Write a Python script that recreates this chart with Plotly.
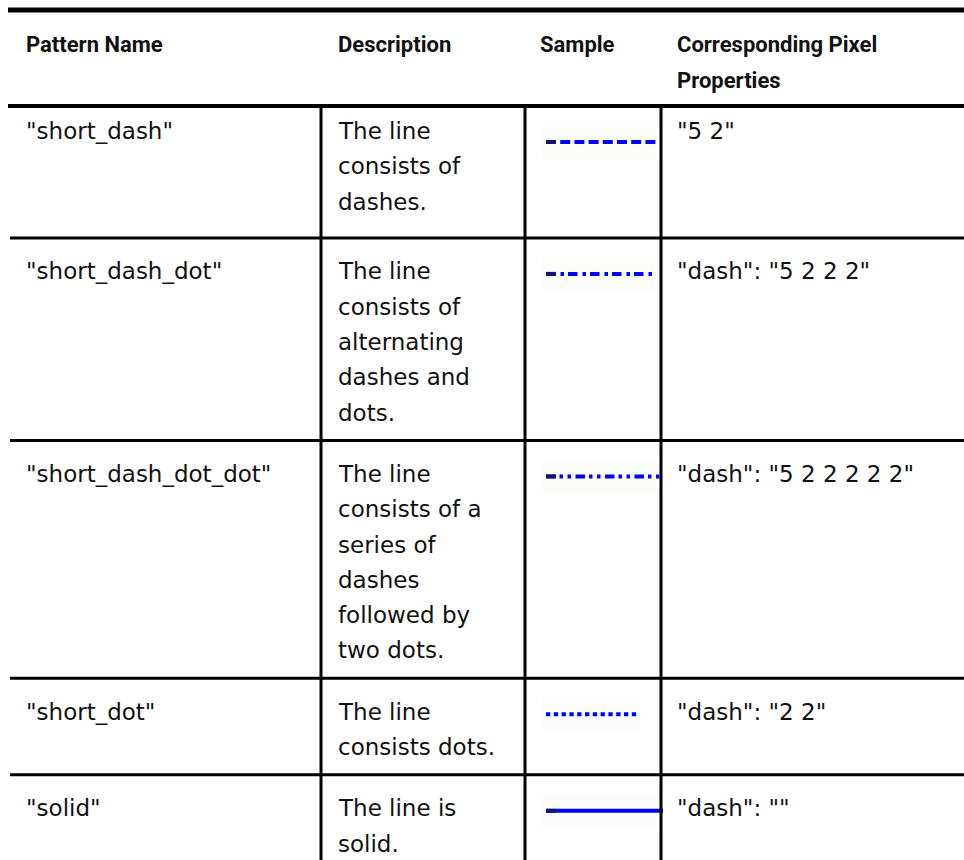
import plotly.graph_objects as go

# ---------------- data ----------------
header_lines = [["Pattern Name"], ["Description"], ["Sample"], ["Corresponding Pixel", "Properties"]]
pattern_names = ['"short_dash"', '"short_dash_dot"', '"short_dash_dot_dot"', '"short_dot"', '"solid"']
descriptions = [
    ["The line", "consists of", "dashes."],
    ["The line", "consists of", "alternating", "dashes and", "dots."],
    ["The line", "consists of a", "series of", "dashes", "followed by", "two dots."],
    ["The line", "consists dots."],
    ["The line is", "solid."],
]
pixel_properties = ['"5 2"', '"dash": "5 2 2 2"', '"dash": "5 2 2 2 2 2"', '"dash": "2 2"', '"dash": ""']

# ---------------- style / layout ----------------
W, H = 964, 860
col_text_x = [24, 336, 538, 675]
col_lines_x = [321, 525, 661]
header_bottom = 106
line_step = 35.3
row_pad = 26
sample_x0 = 546
sample_lengths = [111, 107, 117, 93, 117]
sample_dash = ["10px,4.2px", "9.5px,5px,3.5px,4px", "9.5px,4px,3.5px,4.5px,3.5px,4.5px", "4.3px,3.5px", "solid"]
first_seg = [10, 10, 10, 0, 10]
blue = "#0000ff"
navy = "#14146e"
ink = "#111111"
body_font = dict(family="DejaVu Sans, Verdana, sans-serif", size=23, color=ink)
head_font = dict(family="Roboto, Liberation Sans, sans-serif", size=22, color=ink, weight="bold")

fig = go.Figure()
shapes = []
annotations = []

# header
for cx, lines in zip(col_text_x, header_lines):
    for k, t in enumerate(lines):
        annotations.append(dict(x=cx, y=44 + k * 36, text=t, showarrow=False,
                                xanchor="left", yanchor="middle", font=head_font))

# rows
row_tops = []
top = header_bottom
for desc in descriptions:
    row_tops.append(top)
    top = top + row_pad + line_step * len(desc)

for i, (name, desc, prop) in enumerate(zip(pattern_names, descriptions, pixel_properties)):
    t0 = row_tops[i]
    off = 25 if i == 0 else 33.5
    annotations.append(dict(x=col_text_x[0], y=t0 + off, text=name, showarrow=False,
                            xanchor="left", yanchor="middle", font=body_font))
    for k, line in enumerate(desc):
        annotations.append(dict(x=col_text_x[1], y=t0 + off + k * line_step, text=line, showarrow=False,
                                xanchor="left", yanchor="middle", font=body_font))
    annotations.append(dict(x=col_text_x[3], y=t0 + off, text=prop, showarrow=False,
                            xanchor="left", yanchor="middle", font=body_font))

    # sample
    sy = t0 + 36
    x1 = sample_x0 + sample_lengths[i]
    shapes.append(dict(type="rect", xref="x", yref="y", x0=sample_x0 - 4, x1=min(x1 + 2, 658),
                       y0=sy - 16, y1=sy + 17, fillcolor="#fbfdfb", line=dict(width=0), layer="below"))
    fig.add_trace(go.Scatter(x=[sample_x0, x1], y=[sy, sy], mode="lines",
                             line=dict(color=blue, width=4, dash=sample_dash[i]),
                             hoverinfo="skip", showlegend=False))
    if first_seg[i]:
        fig.add_trace(go.Scatter(x=[sample_x0, sample_x0 + first_seg[i]], y=[sy, sy], mode="lines",
                                 line=dict(color=navy, width=4),
                                 hoverinfo="skip", showlegend=False))

# rule lines
shapes.append(dict(type="line", x0=8, x1=W, y0=10, y1=10, line=dict(color="black", width=5)))
shapes.append(dict(type="line", x0=8, x1=W, y0=header_bottom, y1=header_bottom, line=dict(color="black", width=4)))
for t0 in row_tops[1:]:
    shapes.append(dict(type="line", x0=10, x1=W, y0=t0, y1=t0, line=dict(color="black", width=3)))
for cx in col_lines_x:
    shapes.append(dict(type="line", x0=cx, x1=cx, y0=header_bottom, y1=H, line=dict(color="black", width=3)))
for s in shapes:
    s.setdefault("xref", "x")
    s.setdefault("yref", "y")

fig.update_layout(
    width=W, height=H, margin=dict(l=0, r=0, t=0, b=0),
    paper_bgcolor="white", plot_bgcolor="white",
    xaxis=dict(range=[0, W], visible=False, fixedrange=True),
    yaxis=dict(range=[H, 0], visible=False, fixedrange=True),
    shapes=shapes, annotations=annotations, showlegend=False,
)
fig.write_html("out.html", config={"displayModeBar": False},
               post_script="document.body.style.margin='0px';document.body.style.overflow='hidden';")
